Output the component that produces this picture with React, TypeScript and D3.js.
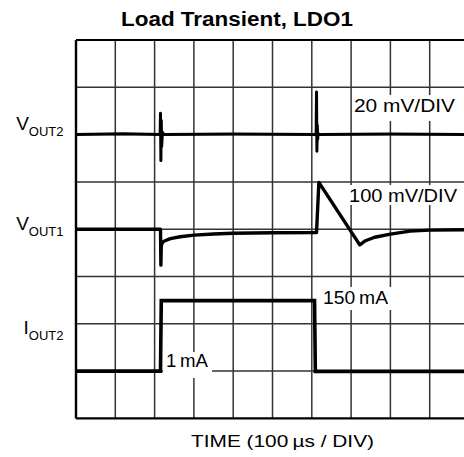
import React from "react";
import * as d3 from "d3";

// ---- data (time in µs, 100 µs/div) ----
const vout2Time = [0, 120, 214, 215, 216, 217, 218, 220, 224, 400, 611, 612, 613, 614, 615, 616, 620, 800, 1000];
const vout2MilliVolt = [0, 0.4, 0, 9, -11, 6, -5, 1, 0, 0.3, 0, 18, -7, 4, -2, 0.5, 0, 0.3, 0];

const vout1Time = [0, 215, 216, 217, 219, 225, 240, 265, 300, 350, 400, 500, 611, 612, 618, 722, 735, 760, 800, 850, 900, 1000];
const vout1MilliVolt = [0, 0, -76, -36, -29, -25, -20, -16, -12.5, -10, -8.7, -7.5, -7, -7, 99, -33, -25, -17, -10.5, -4, -2, -1];

const iout2Time = [0, 215, 217, 607, 609, 1000];
const iout2MilliAmp = [1, 1, 150, 150, 0.5, 0.5];

const channelNames = ["OUT2", "OUT1", "OUT2"];
const channelPrefix = ["V", "V", "I"];
const scaleLabels = ["20 mV/DIV", "100 mV/DIV", "150\u2009mA", "1\u2009mA"];
const titleText = "Load Transient, LDO1";
const xAxisLabel = "TIME (100\u2009µs / DIV)";

const W = 464;
const H = 457;
const X0 = 76;
const DIVW = 39.3;
const Y0 = 40;
const DIVH = 47.3;
const NX = 10;
const NY = 8;

const FONT = "'Liberation Sans', Arial, Helvetica, sans-serif";

export default function App() {
  const x = d3.scaleLinear().domain([0, 1000]).range([X0, X0 + NX * DIVW]);
  const yDiv = d3.scaleLinear().domain([0, NY]).range([Y0 + NY * DIVH, Y0]);

  // trace: offset in divisions, units per division
  const mk = (ts: number[], vs: number[], offsetDiv: number, perDiv: number) => {
    const pts: [number, number][] = ts.map((t, i) => [t, vs[i]]);
    return d3
      .line<[number, number]>()
      .x((d) => x(d[0]))
      .y((d) => yDiv(offsetDiv + d[1] / perDiv))(pts) as string;
  };

  const p2 = mk(vout2Time, vout2MilliVolt, 6, 20);
  const p1 = mk(vout1Time, vout1MilliVolt, 4, 100);
  const pi = mk(iout2Time, iout2MilliAmp, 0.99, 100);

  const vLines = d3.range(1, NX + 1).map((i) => X0 + i * DIVW);
  const hLines = d3.range(1, NY).map((j) => Y0 + j * DIVH);

  const boxes = [
    { x: 352, y: 95, w: 108, h: 26 },
    { x: 347, y: 185, w: 117, h: 20 },
    { x: 320, y: 287, w: 72, h: 23 },
    { x: 163, y: 352, w: 49, h: 26 },
  ];
  const labelPos = [
    { x: 354, y: 112, len: 101 },
    { x: 349, y: 202, len: 108 },
    { x: 323, y: 304, len: 65 },
    { x: 166, y: 367, len: 42 },
  ];
  const chanY = [129.5, 230, 334];

  return (
    <svg
      width={W}
      height={H}
      style={{ position: "absolute", left: 0, top: 0, background: "#fff" }}
      fontFamily={FONT}
    >
      <defs>
        <clipPath id="plot">
          <rect x={X0 - 2} y={Y0 - 2} width={W - X0 + 2} height={NY * DIVH + 4} />
        </clipPath>
      </defs>
      <rect x={0} y={0} width={W} height={H} fill="#fff" />
      <text
        x={237}
        y={25.5}
        textAnchor="middle"
        fontWeight="bold"
        fontSize={19.5}
        textLength={232}
        lengthAdjust="spacingAndGlyphs"
      >
        {titleText}
      </text>

      <g clipPath="url(#plot)">
        {vLines.map((vx, i) => (
          <line key={"v" + i} x1={vx} x2={vx} y1={Y0} y2={Y0 + NY * DIVH} stroke="#333" strokeWidth={1.5} />
        ))}
        {hLines.map((hy, i) => (
          <line key={"h" + i} x1={X0} x2={W} y1={hy} y2={hy} stroke="#333" strokeWidth={1.5} />
        ))}
        <line x1={X0} x2={W} y1={Y0} y2={Y0} stroke="#000" strokeWidth={2} />
        <line x1={X0} x2={W} y1={Y0 + NY * DIVH} y2={Y0 + NY * DIVH} stroke="#000" strokeWidth={2.4} />
        <line x1={X0} x2={X0} y1={Y0} y2={Y0 + NY * DIVH} stroke="#000" strokeWidth={2.4} />

        {boxes.map((b, i) => (
          <rect key={"b" + i} x={b.x} y={b.y} width={b.w} height={b.h} fill="#fff" />
        ))}
        {scaleLabels.map((s, i) => (
          <text
            key={"s" + i}
            x={labelPos[i].x}
            y={labelPos[i].y}
            fontSize={18}
            textLength={labelPos[i].len}
            lengthAdjust="spacingAndGlyphs"
          >
            {s}
          </text>
        ))}

        <path d={p2} fill="none" stroke="#000" strokeWidth={3} strokeLinejoin="round" />
        <path d={p1} fill="none" stroke="#000" strokeWidth={3.4} strokeLinejoin="round" />
        <path d={pi} fill="none" stroke="#000" strokeWidth={3.6} strokeLinejoin="miter" />
      </g>

      {channelNames.map((n, i) => (
        <text key={"c" + i} x={63.5} y={chanY[i]} textAnchor="end" fontSize={19}>
          <tspan>{channelPrefix[i]}</tspan>
          <tspan fontSize={13} dy={6}>
            {n}
          </tspan>
        </text>
      ))}

      <text
        x={282.5}
        y={447}
        textAnchor="middle"
        fontSize={17}
        textLength={183}
        lengthAdjust="spacingAndGlyphs"
      >
        {xAxisLabel}
      </text>
    </svg>
  );
}
